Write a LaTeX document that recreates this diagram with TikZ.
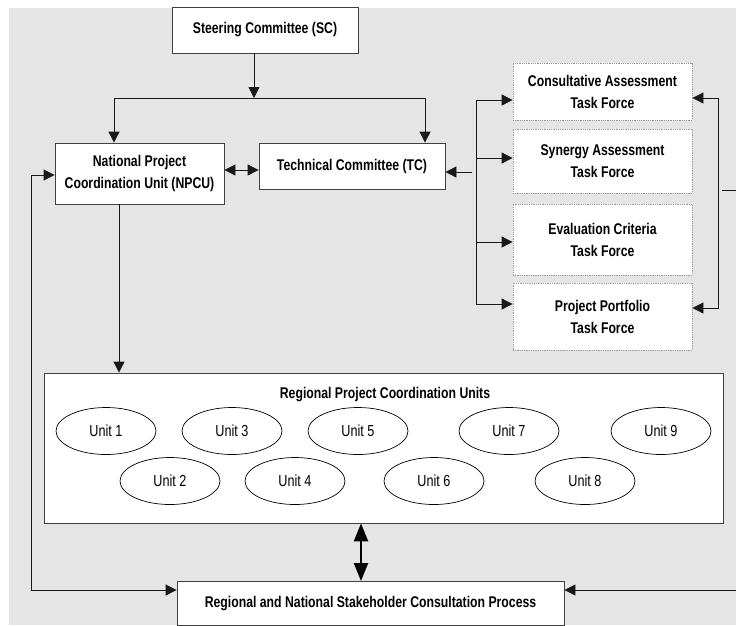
\documentclass[tikz,border=0pt]{standalone}
\usepackage{fontspec}
\setmainfont{Liberation Sans}[FakeStretch=0.79]
\usetikzlibrary{arrows.meta,shapes.geometric}
\definecolor{bggrey}{HTML}{E5E5E5}
\tikzset{
  orgbox/.style={draw=black!75, fill=white, line width=0.8pt, inner sep=0pt, align=center,
    font=\fontsize{15.5}{22}\selectfont\bfseries},
  taskbox/.style={orgbox, draw=black!40, densely dotted, minimum width=179pt},
  unit/.style={ellipse, draw=black, line width=0.7pt, fill=white, inner sep=0pt,
    minimum width=100pt, minimum height=47pt, font=\fontsize{16}{18}\selectfont},
  line/.style={draw=black!90, line width=0.8pt},
  link/.style={line, -{Triangle[length=11pt,width=11pt]}},
  twoway/.style={line, {Triangle[length=11pt,width=11pt]}-{Triangle[length=11pt,width=11pt]}},
  bigway/.style={draw=black, line width=2.3pt, {Triangle[length=18pt,width=14pt]}-{Triangle[length=18pt,width=14pt]}}
}
\begin{document}
\begin{tikzpicture}[x=1pt, y=-1pt]
    \clip (0,0) rectangle (736,625);
    % background
    \fill[bggrey] (9,8) rectangle (736,625);

    % committees
    \node[orgbox, minimum width=186pt, minimum height=46pt] (sc) at (265,30) {Steering Committee (SC)};
    \node[orgbox, minimum width=169pt, minimum height=61pt] (npcu) at (139.5,173.5) {National Project\\Coordination Unit (NPCU)};
    \node[orgbox, minimum width=186pt, minimum height=46pt] (tc) at (352,166) {Technical Committee (TC)};

    % task forces
    \node[taskbox, minimum height=57pt] (tf1) at (602.5,91.5) {Consultative Assessment\\Task Force};
    \node[taskbox, minimum height=64pt] (tf2) at (602.5,161) {Synergy Assessment\\Task Force};
    \node[taskbox, minimum height=71pt] (tf3) at (602.5,239.5) {Evaluation Criteria\\Task Force};
    \node[taskbox, minimum height=67pt] (tf4) at (602.5,316.5) {Project Portfolio\\Task Force};

    % regional units
    \node[draw=black!75, fill=white, line width=0.8pt, minimum width=679pt, minimum height=150pt] (rpcu) at (383.5,448) {};
    \node[font=\fontsize{15.5}{18}\selectfont\bfseries] (rpcutitle) at (385,395) {Regional Project Coordination Units};
    \foreach \n/\x/\y in {1/106/431, 3/232/431, 5/358/431, 7/509/431, 9/661/431,
                          2/170/481, 4/295/481, 6/434/481, 8/585/481}
      \node[unit] (u\n) at (\x,\y) {Unit \n};

    % stakeholders
    \node[orgbox, anchor=north, minimum width=387pt, minimum height=44pt] (stake) at (370.5,581) {Regional and National Stakeholder Consultation Process};

    % SC to NPCU and TC
    \coordinate (split) at (254,98);
    \draw[link] (sc.south -| split) -- (split);
    \draw[link] (split) -| ([xshift=-25.5pt]npcu.north);
    \draw[link] (split) -| ([xshift=73pt]tc.north);
    \draw[twoway] (npcu.east |- 0,170) -- (tc.west |- 0,170);

    % TC to task forces
    \draw[line] (476,100) -- (476,304);
    \foreach \t/\y in {tf1/100, tf2/158, tf3/242, tf4/304}
      \draw[link] (476,\y) -- (\t.west |- 0,\y);
    \draw[link] (472,172) -- (tc.east |- 0,172);
    \draw[twoway] (tf1.east |- 0,98) -- (718,98) -- (718,308) -- (tf4.east |- 0,308);
    \draw[line] (722,190) -- (736,190);

    % NPCU, regional units and stakeholders
    \draw[link] (npcu.south -| 119,0) -- (rpcu.north -| 119,0);
    \draw[twoway] (npcu.west |- 0,175) -- (31,175) -- (31,590) -- (stake.west |- 0,590);
    \draw[link] (736,590) -- (stake.east |- 0,590);
    \draw[bigway] (rpcu.south -| 361,0) -- (stake.north -| 361,0);
\end{tikzpicture}
\end{document}
